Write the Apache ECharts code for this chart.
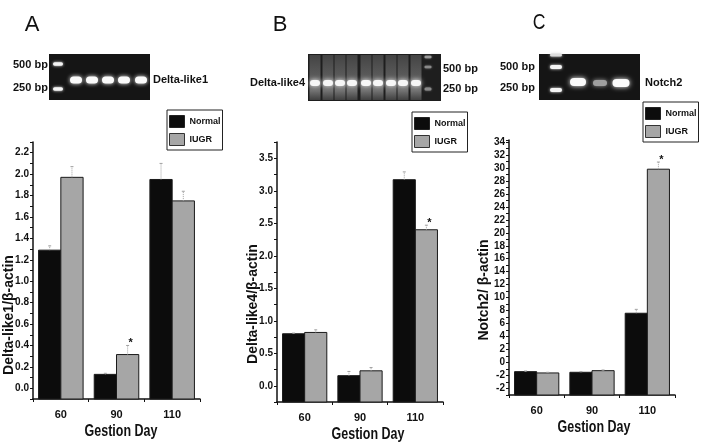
<!DOCTYPE html>
<html><head><meta charset="utf-8">
<script src="https://cdn.jsdelivr.net/npm/echarts@6/dist/echarts.min.js"></script>
<style>html,body{margin:0;padding:0;background:#fff}#c{width:701px;height:446px}</style>
</head><body><div id="c"></div>
<script>
const categories = ['60', '90', '110'];
const seriesNames = ['Normal', 'IUGR'];

// Panel A : Delta-like1
const aNormal = [1.29, 0.13, 1.95];
const aNormalErr = [1.33, 0.14, 2.10];
const aIUGR = [1.97, 0.315, 1.75];
const aIUGRErr = [2.07, 0.40, 1.84];
const aIUGRStar = [false, true, false];

// Panel B : Delta-like4
const bNormal = [0.80, 0.155, 3.17];
const bNormalErr = [0.81, 0.22, 3.29];
const bIUGR = [0.82, 0.23, 2.40];
const bIUGRErr = [0.86, 0.28, 2.47];
const bIUGRStar = [false, false, true];

// Panel C : Notch2
const cNormal = [-1.4, -1.5, 7.6];
const cNormalErr = [-1.3, -1.4, 8.2];
const cIUGR = [-1.6, -1.25, 29.8];
const cIUGRErr = [-1.5, -1.15, 30.9];
const cIUGRStar = [false, false, true];
const cTickValues = [-4, -2, 0, 2, 4, 6, 8, 10, 12, 14, 16, 18, 20, 22, 24, 26, 28, 30, 32, 34];
const cTickLabels = ['-2', '-2', '0', '2', '4', '6', '8', '10', '12', '14', '16', '18', '20', '22', '24', '26', '28', '30', '32', '34'];

const FONT = '"Liberation Sans", Arial, sans-serif';
const NORMAL_COLOR = '#0c0c0c';
const IUGR_COLOR = '#a6a6a6';

function barRender(side, color, stars) {
  return function (params, api) {
    const ci = api.value(0);
    const v = api.value(1);
    const cs = params.coordSys;
    const catW = api.size([1, 0])[0];
    const bw = catW * 0.4;
    const cx = api.coord([ci, v])[0];
    const x0 = side === 0 ? cx - bw : cx;
    const yTop = api.coord([ci, v])[1];
    const yBot = cs.y + cs.height;
    const yErr = api.coord([ci, api.value(2)])[1];
    const mx = x0 + bw / 2;
    const children = [
      { type: 'rect', shape: { x: x0, y: yTop, width: bw, height: yBot - yTop },
        style: { fill: color, stroke: '#1a1a1a', lineWidth: 1 } },
      { type: 'line', shape: { x1: mx, y1: yTop, x2: mx, y2: yErr },
        style: { stroke: '#a0a0a0', lineWidth: 1, lineDash: [1, 1] } },
      { type: 'line', shape: { x1: mx - 1.5, y1: yErr, x2: mx + 1.5, y2: yErr },
        style: { stroke: '#a0a0a0', lineWidth: 1 } }
    ];
    if (stars && stars[ci]) {
      children.push({ type: 'text', style: { text: '*', x: mx + 3, y: yErr - 2, align: 'center', verticalAlign: 'middle',
        font: 'bold 11px ' + FONT, fill: '#111' } });
    }
    return { type: 'group', children };
  };
}

function mkSeries(idx, name, side, color, vals, errs, stars) {
  return {
    type: 'custom', name: name, xAxisIndex: idx, yAxisIndex: idx,
    itemStyle: { color: color },
    renderItem: barRender(side, color, stars),
    encode: { x: 0, y: 1 },
    data: vals.map((v, i) => [i, v, errs[i]]),
    z: 3
  };
}

const grids = [
  { left: 33, top: 142, width: 167, height: 257 },
  { left: 277, top: 142, width: 166, height: 260 },
  { left: 509, top: 140, width: 166, height: 255 }
];

function xAx(i) {
  return {
    type: 'category', gridIndex: i, data: categories,
    axisLine: { onZero: false, lineStyle: { color: '#111', width: 1.5 } },
    axisTick: { show: true, length: 3, lineStyle: { color: '#111', width: 1 } },
    axisLabel: { fontFamily: FONT, fontWeight: 'bold', fontSize: 11, color: '#111', margin: 10 },
    splitLine: { show: false }
  };
}

function yAx(i, min, max, interval, fmt) {
  return {
    type: 'value', gridIndex: i, min: min, max: max, interval: interval,
    axisLine: { show: true, onZero: false, lineStyle: { color: '#111', width: 1.5 } },
    axisTick: { show: true, length: 3, lineStyle: { color: '#111', width: 1 } },
    axisLabel: { fontFamily: FONT, fontWeight: 'bold', fontSize: 10, color: '#111', margin: 4, formatter: fmt },
    splitLine: { show: false }
  };
}

const fmtA = v => { const k = Math.round(v * 10); return (Math.abs(v * 10 - k) < 1e-6 && k >= 0 && k % 2 === 0) ? (k / 10).toFixed(1) : ''; };
const fmtB = v => { const k = Math.round(v * 4); return (Math.abs(v * 4 - k) < 1e-6 && k >= 0 && k % 2 === 0) ? (k / 4).toFixed(1) : ''; };
const fmtC = v => { const i = cTickValues.findIndex(t => Math.abs(t - v) < 1e-6); return i >= 0 ? cTickLabels[i] : ''; };

function legendAt(left, top) {
  return {
    left: left, top: top, orient: 'vertical', itemWidth: 15, itemHeight: 12, itemGap: 5,
    padding: [5, 2, 4, 2], borderColor: '#222', borderWidth: 1, selectedMode: false,
    textStyle: { fontFamily: FONT, fontWeight: 'bold', fontSize: 9, color: '#111' },
    data: [
      { name: seriesNames[0], icon: 'rect', itemStyle: { color: NORMAL_COLOR, borderColor: '#222', borderWidth: 1 } },
      { name: seriesNames[1], icon: 'rect', itemStyle: { color: IUGR_COLOR, borderColor: '#333', borderWidth: 1 } }
    ]
  };
}

// ---- decorative gel pictures and titles ----
const LBL = 'bold 11px ' + FONT;
function txt(x, y, s, font, align, sx) {
  return { type: 'text', x: x, y: y, scaleX: sx || 1,
    style: { text: s, font: font || LBL, fill: '#111', align: align || 'left', verticalAlign: 'middle' } };
}
function band(cx, cy, w, h, color, blur) {
  return { type: 'rect', shape: { x: cx - w / 2, y: cy - h / 2, width: w, height: h, r: h / 2 },
    style: { fill: color || '#fff', shadowBlur: blur == null ? 4 : blur, shadowColor: color || '#fff' } };
}
const g = [];
// Panel letters
g.push(txt(32, 25, 'A', '22px "Liberation Sans", sans-serif', 'center'));
g.push(txt(280, 25, 'B', '22px "Liberation Sans", sans-serif', 'center'));
g.push(txt(539, 23, 'C', '22px "Liberation Sans", sans-serif', 'center', 0.8));
// Gel A
g.push({ type: 'rect', shape: { x: 49, y: 54, width: 101, height: 46 }, style: { fill: '#151515' } });
g.push(band(58, 64, 10, 3.5, '#f4f4f4', 3));
g.push(band(58, 89, 10, 3.5, '#f4f4f4', 3));
[76, 92, 108, 124, 141].forEach(x => g.push(band(x, 80, 12, 7, '#fafafa', 4)));
g.push(txt(13, 65, '500 bp'));
g.push(txt(13, 88, '250 bp'));
g.push(txt(153, 80, 'Delta-like1'));
// Gel B
g.push({ type: 'rect', shape: { x: 308, y: 54, width: 133, height: 47 }, style: { fill: '#1e1e1e' } });
[315, 328, 340, 352, 366, 378, 391, 403, 416].forEach(x => {
  g.push({ type: 'rect', shape: { x: x - 5.5, y: 55, width: 11, height: 45 },
    style: { fill: new echarts.graphic.LinearGradient(0, 0, 0, 1, [
      { offset: 0, color: '#444' }, { offset: 0.5, color: '#5c5c5c' }, { offset: 0.8, color: '#707070' }, { offset: 1, color: '#404040' }]) } });
  g.push(band(x, 83, 10, 6, '#f6f6f6', 5));
});
g.push(band(428, 57, 7, 2.5, '#9a9a9a', 2));
g.push(band(428, 67, 7, 2.5, '#8a8a8a', 2));
g.push(band(428, 89, 7, 3, '#8a8a8a', 2));
g.push(txt(250, 83, 'Delta-like4'));
g.push(txt(443, 69, '500 bp'));
g.push(txt(443, 89, '250 bp'));
// Gel C
g.push({ type: 'rect', shape: { x: 539, y: 54, width: 101, height: 46 }, style: { fill: '#151515' } });
g.push(band(556, 55, 12, 3, '#dcdcdc', 3));
g.push(band(556, 67, 12, 4, '#f4f4f4', 3));
g.push(band(556, 90, 12, 4, '#f4f4f4', 3));
g.push(band(578, 82, 16, 8, '#fafafa', 5));
g.push(band(600, 83, 14, 6, '#9e9e9e', 4));
g.push(band(621, 83, 17, 8, '#fafafa', 5));
g.push(txt(500, 67, '500 bp'));
g.push(txt(500, 88, '250 bp'));
g.push(txt(645, 83, 'Notch2'));
// axis titles
function ytitle(x, y, s) {
  return { type: 'text', x: x, y: y, rotation: Math.PI / 2,
    style: { text: s, font: 'bold 14px ' + FONT, fill: '#111', align: 'center', verticalAlign: 'middle' } };
}
g.push(ytitle(9, 315, 'Delta-like1/β-actin'));
g.push(ytitle(253, 304, 'Delta-like4/β-actin'));
g.push(ytitle(484, 290, 'Notch2/ β-actin'));
const XT = 'bold 16px ' + FONT;
g.push(txt(121, 432, 'Gestion Day', XT, 'center', 0.78));
g.push(txt(368, 435, 'Gestion Day', XT, 'center', 0.78));
g.push(txt(594, 428, 'Gestion Day', XT, 'center', 0.78));

const chart = echarts.init(document.getElementById('c'), null, { renderer: 'canvas' });
chart.setOption({
  backgroundColor: '#fff',
  animation: false,
  grid: grids,
  xAxis: [xAx(0), xAx(1), xAx(2)],
  yAxis: [yAx(0, -0.1, 2.3, 0.1, fmtA), yAx(1, -0.25, 3.75, 0.25, fmtB), yAx(2, -5, 34.3, 1, fmtC)],
  legend: [legendAt(167, 110), legendAt(412, 112), legendAt(643, 102)],
  series: [
    mkSeries(0, seriesNames[0], 0, NORMAL_COLOR, aNormal, aNormalErr, null),
    mkSeries(0, seriesNames[1], 1, IUGR_COLOR, aIUGR, aIUGRErr, aIUGRStar),
    mkSeries(1, seriesNames[0], 0, NORMAL_COLOR, bNormal, bNormalErr, null),
    mkSeries(1, seriesNames[1], 1, IUGR_COLOR, bIUGR, bIUGRErr, bIUGRStar),
    mkSeries(2, seriesNames[0], 0, NORMAL_COLOR, cNormal, cNormalErr, null),
    mkSeries(2, seriesNames[1], 1, IUGR_COLOR, cIUGR, cIUGRErr, cIUGRStar)
  ],
  graphic: g
});
</script></body></html>
